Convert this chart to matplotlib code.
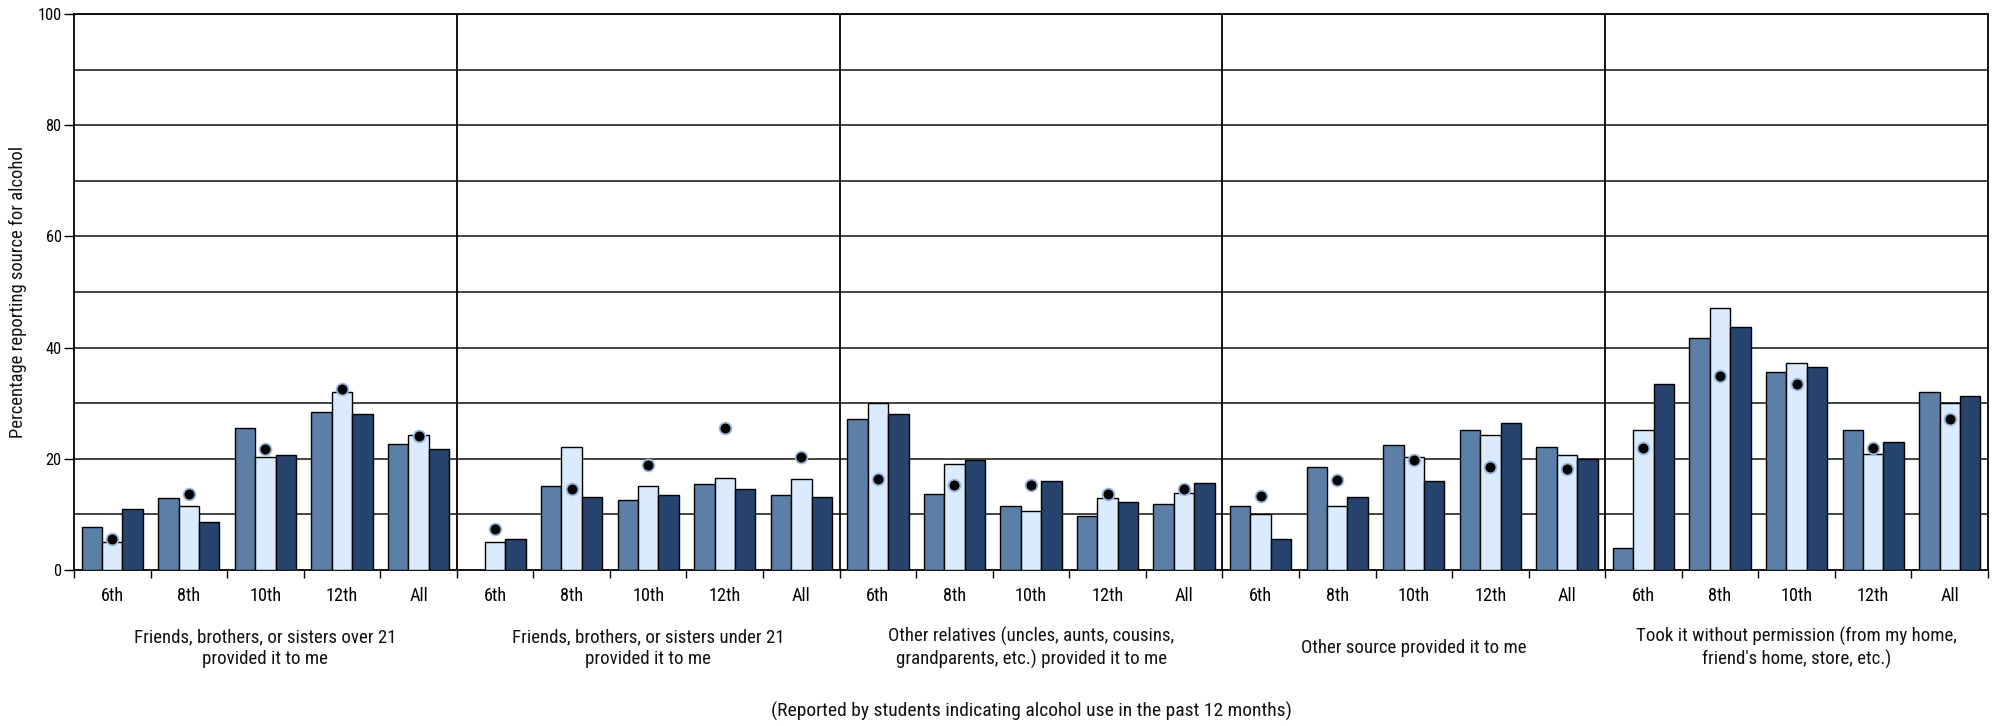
import numpy as np
import matplotlib
matplotlib.use("Agg")
import matplotlib.pyplot as plt
from matplotlib import font_manager
from matplotlib.transforms import blended_transform_factory

# ---------------- data ----------------
grades = ["6th", "8th", "10th", "12th", "All"]
sources = [
    "Friends, brothers, or sisters over 21\nprovided it to me",
    "Friends, brothers, or sisters under 21\nprovided it to me",
    "Other relatives (uncles, aunts, cousins,\ngrandparents, etc.) provided it to me",
    "Other source provided it to me",
    "Took it without permission (from my home,\nfriend's home, store, etc.)",
]
series_medium = [7.7, 12.9, 25.5, 28.4, 22.7,
                 np.nan, 15.1, 12.6, 15.4, 13.5,
                 27.1, 13.6, 11.6, 9.8, 11.9,
                 11.6, 18.5, 22.5, 25.2, 22.2,
                 4.0, 41.8, 35.7, 25.2, 32.0]
series_light = [5.0, 11.6, 20.3, 32.0, 24.3,
                5.0, 22.2, 15.1, 16.6, 16.3,
                30.1, 19.0, 10.7, 12.9, 13.8,
                10.1, 11.6, 20.3, 24.3, 20.6,
                25.2, 47.1, 37.2, 20.9, 30.1]
series_dark = [11.0, 8.7, 20.7, 28.1, 21.8,
               5.5, 13.2, 13.5, 14.5, 13.2,
               28.0, 19.7, 16.0, 12.3, 15.6,
               5.5, 13.2, 16.0, 26.4, 20.0,
               33.5, 43.7, 36.6, 23.1, 31.3]
reference_dots = [5.6, 13.7, 21.7, 32.5, 24.1,
                  7.4, 14.6, 18.8, 25.5, 20.3,
                  16.3, 15.2, 15.3, 13.6, 14.6,
                  13.3, 16.2, 19.8, 18.6, 18.1,
                  21.9, 34.9, 33.5, 21.9, 27.1]
y_ticks = [0, 20, 40, 60, 80, 100]
y_label = "Percentage reporting source for alcohol"
footnote = "(Reported by students indicating alcohol use in the past 12 months)"

C_MED = "#5B7FA6"
C_LIGHT = "#D9EBFC"
C_DARK = "#26446E"

# ---------------- font ----------------
avail = {f.name for f in font_manager.fontManager.ttflist}
FAMILY = "DejaVu Sans"
for cand in ["Liberation Sans Narrow", "Roboto Condensed", "Roboto", "Lato"]:
    if cand in avail:
        FAMILY = cand
        break
plt.rcParams["font.family"] = FAMILY

W, H = 2001, 726
fig = plt.figure(figsize=(W / 100, H / 100), dpi=100)
renderer = fig.canvas.get_renderer()


def fit_size(s, target_px, base=12):
    t = fig.text(0, 0, s, fontsize=base)
    w = t.get_window_extent(renderer).width
    t.remove()
    return base * target_px / w


fs_cat = fit_size("Friends, brothers, or sisters over 21", 263)
fs_tick = fit_size("10th", 32)
fs_ytick = fit_size("100", 24)
fs_ylab = fit_size(y_label, 291)
fs_foot = fit_size(footnote, 517)

# ---------------- axes ----------------
x0, x1 = 74, 1988
ytop, ybot = 14, 570
ax = fig.add_axes([x0 / W, (H - ybot) / H, (x1 - x0) / W, (ybot - ytop) / H])

n = len(series_light)
x = np.arange(n) + 0.5
bw = 0.8 / 3

for v in range(10, 101, 10):
    ax.axhline(v, color="#111111", lw=1.1, zorder=1)
for k in range(5, n, 5):
    ax.axvline(k, color="black", lw=1.3, zorder=2)

ax.bar(x - bw, series_medium, bw, color=C_MED, edgecolor="black", linewidth=1.0, zorder=3)
ax.bar(x, series_light, bw, color=C_LIGHT, edgecolor="black", linewidth=1.0, zorder=3)
ax.bar(x + bw, series_dark, bw, color=C_DARK, edgecolor="black", linewidth=1.0, zorder=3)
ax.plot(x, reference_dots, linestyle="none", marker="o", markersize=8.5,
        markerfacecolor="black", markeredgecolor="#9DB9DD", markeredgewidth=1.3, zorder=5)

ax.set_xlim(0, n)
ax.set_ylim(0, 100)
for sp in ax.spines.values():
    sp.set_color("black")
    sp.set_linewidth(1.3)

ax.set_yticks(y_ticks)
ax.set_yticklabels([str(v) for v in y_ticks], fontsize=fs_ytick)
ax.tick_params(axis="y", direction="out", length=7, width=1.0, pad=2, colors="black")

ax.set_xticks(np.arange(0, n + 1))
ax.set_xticklabels([""] * (n + 1))
ax.tick_params(axis="x", which="major", direction="out", length=6, width=1.0)
ax.set_xticks(x, minor=True)
ax.set_xticklabels(grades * 5, minor=True, fontsize=fs_tick)
ax.tick_params(axis="x", which="minor", length=0, pad=12)

# category labels
trans = blended_transform_factory(ax.transData, fig.transFigure)
for i, s in enumerate(sources):
    ax.text(5 * i + 2.5, 1 - 648 / H, s, transform=trans, ha="center", va="center",
            multialignment="center", fontsize=fs_cat, linespacing=1.25, color="#111111")

fig.text(17.5 / W, 1 - 292 / H, y_label, rotation=90, ha="center", va="center",
         fontsize=fs_ylab, color="#111111")
fig.text((x0 + x1) / 2 / W, 1 - 711 / H, footnote, ha="center", va="center",
         fontsize=fs_foot, color="#111111")

fig.savefig("out.png", dpi=100)
